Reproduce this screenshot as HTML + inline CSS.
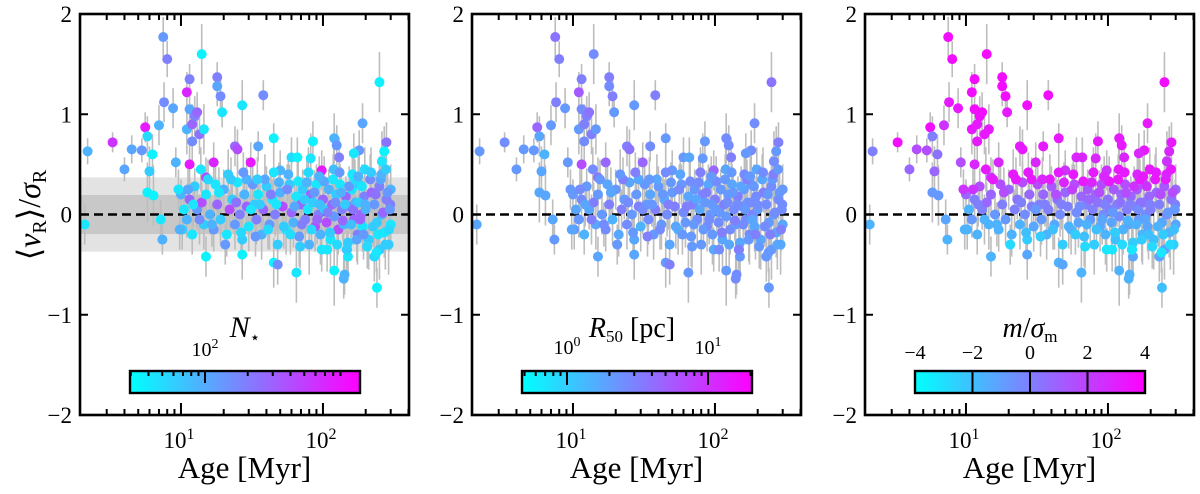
<!DOCTYPE html>
<html><head><meta charset="utf-8"><style>
html,body{margin:0;padding:0;background:#fff}
svg{display:block}
svg text{font-family:"Liberation Serif","DejaVu Serif",serif;fill:#000}
</style></head><body>
<svg id="fig" width="1200" height="494" viewBox="0 0 1200 494" font-family="Liberation Serif, DejaVu Serif, serif"></svg>
<script>
// ---- data: age Myr, <vR>/sigmaR, error, colour N*, colour R50, colour m/sigma (0..1 on cool map)
const ages = [2.2,3.3,4,4.5,5.3,5.6,5.8,6,6.3,5.8,6.4,7,7.5,8,7.6,8.8,9.2,7.2,7.4,2.1,11.5,11,11,11.5,12,12.5,13,14,13.5,14.5,18,18,19,19.5,27,38,11.5,15,12,17,24,25,31,35,45,50,60,66,85,82,98,120,125,130,190,180,165,250,280,270,260,15,27,45,48,65,120,140,142,150,240,230,250,
10,10.5,11,11.5,12,12.5,13,14,14.5,15,16,17,17.5,18,19,20,21,22,23,24,25,26,27,28,29,30,32,33,34,35,37,38,40,42,44,46,48,50,52,55,58,60,62,65,68,70,72,75,78,80,82,85,88,90,93,96,100,103,106,110,113,116,120,124,128,132,136,140,145,150,155,160,165,170,175,180,185,190,195,200,210,220,230,240,250,260,270,280,290,295,300,300,
10.2,11.2,12.2,13.5,15.5,16.5,18.5,20.5,22.5,24.5,26.5,29,31,33.5,36,39,41,43,47,49,53,56,59,63,67,71,74,77,83,87,91,95,98,102,108,112,118,122,126,134,138,143,148,153,158,163,168,173,178,183,188,193,198,205,215,225,235,245,255,265,275,285,292,298,
9.6,9.8,13.8,21.5,27.5,34.5,45,57,69,79,94,107,119,131,147,161,177,197,218,238,258,278,296];
const vals = [0.63,0.72,0.45,0.65,0.64,0.87,0.78,0.43,0.6,0.22,0.19,0.89,1.77,1.55,1.12,1.06,0.52,-0.05,-0.25,-0.1,1.35,1.22,0.85,1.05,0.9,0.98,1.02,1.6,0.8,0.85,1.37,1.28,1.18,1.02,1.09,1.19,0.5,0.37,0.73,0.52,0.68,0.65,0.52,0.68,0.76,0.44,0.57,0.57,0.73,0.56,0.44,0.76,0.69,0.57,0.91,0.64,0.61,1.32,0.72,0.63,0.53,-0.42,-0.4,-0.48,-0.5,-0.58,-0.56,-0.64,-0.6,-0.42,-0.73,-0.42,-0.35,
0.2,0.05,-0.05,0.15,-0.2,0.28,0.05,0.12,-0.1,0.2,0,-0.15,0.3,0.1,-0.05,0.25,-0.2,0.05,0.15,-0.1,0.32,0,-0.25,0.2,0.08,-0.12,0.3,0.1,-0.05,0.2,-0.2,0.05,0.28,-0.1,0.15,0,-0.3,0.22,0.08,-0.15,0.3,0.02,-0.08,0.18,-0.22,0.1,0.25,-0.05,0.05,-0.3,0.2,0.12,-0.12,0.3,0,-0.2,0.15,0.05,-0.08,0.25,-0.25,0.1,-0.02,0.2,-0.15,0.3,0.05,-0.1,0.18,-0.28,0.08,0.25,-0.05,0.12,-0.2,0.3,0,-0.12,0.18,0.05,-0.25,0.22,0.1,-0.08,0.28,0,-0.18,0.15,-0.3,0.05,0.25,-0.1,
-0.15,0.25,0.1,-0.05,0.35,-0.1,0.22,-0.3,0.35,0.12,-0.18,0.35,0.05,-0.22,0.1,0.35,-0.15,0.2,0.1,0.32,-0.12,0.25,-0.2,0.08,0.33,-0.1,0.15,0.32,-0.15,0.22,-0.05,0.1,-0.35,0.33,0.02,-0.18,0.35,0.12,-0.3,0.22,-0.06,0.1,-0.35,0.28,-0.1,0.05,0.35,-0.25,0.12,-0.05,0.28,-0.2,0.1,-0.32,0.35,-0.12,0.2,-0.2,0.35,0.02,-0.3,0.22,-0.15,0.1,
0.25,-0.15,0.45,0.4,0.42,0.35,0.42,0.4,-0.32,0.42,0.38,-0.35,0.45,0.42,-0.35,0.4,0.38,0.45,0.42,-0.38,0.4,0.45,0.05];
const errs = [0.13,0.1,0.12,0.14,0.12,0.15,0.2,0.25,0.2,0.3,0.3,0.2,0.2,0.18,0.2,0.2,0.15,0.2,0.15,0.2,0.15,0.2,0.25,0.2,0.2,0.2,0.2,0.3,0.2,0.25,0.15,0.2,0.2,0.15,0.25,0.15,0.2,0.2,0.2,0.2,0.2,0.2,0.2,0.15,0.15,0.2,0.2,0.2,0.2,0.25,0.2,0.25,0.2,0.2,0.2,0.2,0.2,0.3,0.2,0.25,0.3,0.2,0.25,0.25,0.2,0.3,0.35,0.2,0.2,0.2,0.2,0.25,0.3,
0.15,0.15,0.18,0.2,0.2,0.18,0.2,0.2,0.25,0.2,0.2,0.22,0.2,0.2,0.25,0.2,0.22,0.2,0.2,0.25,0.2,0.22,0.25,0.2,0.2,0.25,0.2,0.22,0.25,0.2,0.25,0.2,0.2,0.25,0.2,0.22,0.3,0.2,0.2,0.25,0.2,0.22,0.25,0.2,0.3,0.2,0.2,0.25,0.22,0.3,0.2,0.2,0.25,0.2,0.22,0.3,0.2,0.22,0.25,0.2,0.3,0.22,0.25,0.2,0.25,0.2,0.22,0.25,0.2,0.3,0.22,0.2,0.25,0.22,0.3,0.2,0.22,0.25,0.2,0.22,0.3,0.2,0.22,0.25,0.3,0.22,0.25,0.2,0.3,0.22,0.25,0.25,
0.2,0.2,0.22,0.25,0.2,0.22,0.25,0.2,0.22,0.25,0.2,0.22,0.25,0.2,0.22,0.25,0.2,0.22,0.25,0.2,0.22,0.25,0.2,0.22,0.25,0.2,0.22,0.25,0.2,0.22,0.25,0.2,0.22,0.25,0.2,0.22,0.25,0.2,0.22,0.25,0.2,0.22,0.25,0.2,0.22,0.25,0.2,0.22,0.25,0.2,0.22,0.25,0.2,0.22,0.25,0.2,0.22,0.25,0.2,0.22,0.25,0.2,0.22,0.25,
0.2,0.2,0.22,0.25,0.2,0.22,0.25,0.2,0.22,0.25,0.2,0.22,0.25,0.2,0.22,0.25,0.2,0.22,0.25,0.2,0.22,0.25,0.2];
const cN = [0.3,0.8,0.35,0.35,0.4,0.9,0.15,0.2,0.05,0.05,0.05,0.3,0.4,0.5,0.45,0.35,0.3,0.1,0.3,0.1,0.5,0.85,0.3,0.35,0.6,0.5,0.6,0.05,0.55,0.1,0.5,0.35,0.45,0.1,0.1,0.45,0.9,0.7,0.45,0.85,0.6,0.7,0.9,0.35,0.05,0.3,0.15,0.05,0.05,0.1,0.9,0.3,0.4,0.5,0.35,0.4,0.1,0.05,0.55,0.05,0.1,0.05,0.05,0.05,0.45,0.1,0.05,0.3,0.3,0.1,0.05,0.15,0.2,
0.3,0.1,0.3,0.6,0.1,0.2,0.4,0.7,0.2,0.1,0.3,0.4,0.1,0.6,0.2,0.3,0.1,0.7,0.2,0.4,0.1,0.5,0.2,0.3,0.6,0.1,0.4,0.2,0.5,0.1,0.3,0.6,0.2,0.4,0.1,0.5,0.2,0.3,0.7,0.1,0.2,0.6,0.3,0.1,0.4,0.6,0.2,0.5,0.1,0.3,0.6,0.2,0.7,0.1,0.5,0.3,0.6,0.2,0.7,0.3,0.1,0.6,0.4,0.2,0.7,0.1,0.5,0.3,0.6,0.2,0.5,0.1,0.6,0.3,0.5,0.2,0.6,0.1,0.5,0.3,0.2,0.6,0.4,0.2,0.5,0.3,0.1,0.5,0.2,0.6,0.3,0.1,
0.2,0.35,0.1,0.45,0.15,0.3,0.1,0.4,0.2,0.55,0.15,0.3,0.1,0.4,0.2,0.35,0.15,0.5,0.1,0.3,0.2,0.45,0.15,0.35,0.1,0.5,0.2,0.3,0.15,0.4,0.6,0.25,0.1,0.35,0.5,0.2,0.1,0.45,0.15,0.3,0.6,0.2,0.1,0.4,0.25,0.55,0.15,0.35,0.2,0.6,0.1,0.4,0.3,0.15,0.45,0.2,0.55,0.1,0.35,0.6,0.2,0.4,0.15,0.5,
0.1,0.3,0.1,0.2,0.4,0.2,0.1,0.3,0.2,0.15,0.3,0.1,0.25,0.4,0.2,0.1,0.3,0.15,0.2,0.1,0.3,0.2,0.4];
const cR = [0.4,0.45,0.4,0.4,0.4,0.6,0.35,0.35,0.3,0.35,0.35,0.4,0.55,0.5,0.5,0.4,0.4,0.35,0.4,0.35,0.5,0.65,0.4,0.45,0.5,0.5,0.55,0.45,0.5,0.4,0.5,0.45,0.5,0.4,0.4,0.5,0.7,0.55,0.45,0.6,0.5,0.55,0.6,0.45,0.4,0.4,0.4,0.35,0.4,0.4,0.6,0.45,0.45,0.5,0.45,0.45,0.4,0.55,0.5,0.4,0.45,0.35,0.35,0.4,0.5,0.4,0.4,0.45,0.45,0.4,0.4,0.4,0.4,
0.4,0.35,0.4,0.45,0.3,0.4,0.35,0.5,0.35,0.4,0.4,0.45,0.35,0.5,0.3,0.4,0.35,0.5,0.4,0.45,0.35,0.4,0.35,0.4,0.5,0.3,0.4,0.4,0.45,0.35,0.4,0.5,0.4,0.4,0.35,0.45,0.35,0.4,0.5,0.3,0.4,0.45,0.4,0.35,0.4,0.5,0.4,0.45,0.35,0.4,0.5,0.4,0.45,0.35,0.4,0.4,0.5,0.4,0.45,0.4,0.35,0.5,0.4,0.4,0.45,0.35,0.45,0.4,0.5,0.35,0.45,0.4,0.45,0.4,0.45,0.4,0.5,0.35,0.45,0.4,0.35,0.5,0.45,0.4,0.45,0.4,0.35,0.45,0.35,0.5,0.4,0.35,
0.4,0.45,0.35,0.5,0.4,0.45,0.35,0.4,0.5,0.45,0.4,0.35,0.45,0.5,0.4,0.35,0.45,0.4,0.5,0.4,0.35,0.45,0.4,0.5,0.45,0.4,0.35,0.45,0.4,0.5,0.45,0.4,0.35,0.45,0.4,0.5,0.4,0.45,0.35,0.4,0.5,0.45,0.4,0.35,0.45,0.4,0.5,0.4,0.45,0.35,0.4,0.5,0.45,0.4,0.35,0.45,0.4,0.5,0.4,0.45,0.35,0.4,0.5,0.45,
0.4,0.35,0.45,0.4,0.5,0.4,0.45,0.35,0.4,0.5,0.4,0.45,0.35,0.4,0.5,0.45,0.4,0.35,0.45,0.4,0.5,0.4,0.45];
const cM = [0.5,0.95,0.6,0.7,0.7,0.95,0.5,0.6,0.55,0.4,0.4,0.8,0.95,0.95,0.9,0.9,0.7,0.35,0.3,0.3,0.95,0.95,0.9,0.95,0.9,0.95,0.95,0.95,0.9,0.9,0.95,0.95,0.95,0.9,0.95,0.95,0.85,0.8,0.9,0.85,0.9,0.9,0.85,0.9,0.9,0.8,0.85,0.85,0.9,0.85,0.8,0.9,0.9,0.85,0.9,0.9,0.85,0.95,0.9,0.85,0.8,0.3,0.35,0.3,0.35,0.3,0.3,0.3,0.3,0.35,0.25,0.35,0.35,
0.6,0.3,0.4,0.5,0.3,0.7,0.5,0.6,0.3,0.6,0.4,0.3,0.7,0.5,0.4,0.6,0.3,0.5,0.55,0.3,0.7,0.45,0.2,0.6,0.5,0.35,0.7,0.5,0.4,0.6,0.3,0.5,0.65,0.35,0.55,0.45,0.2,0.6,0.5,0.3,0.7,0.45,0.35,0.6,0.25,0.5,0.65,0.4,0.5,0.2,0.6,0.55,0.35,0.7,0.45,0.3,0.55,0.5,0.35,0.65,0.25,0.5,0.45,0.6,0.3,0.7,0.5,0.35,0.6,0.2,0.5,0.65,0.4,0.55,0.3,0.7,0.45,0.35,0.6,0.5,0.25,0.6,0.5,0.35,0.65,0.45,0.3,0.55,0.2,0.5,0.6,0.35,
0.3,0.8,0.5,0.3,0.9,0.3,0.7,0.15,0.9,0.5,0.25,0.9,0.4,0.2,0.5,0.9,0.25,0.7,0.5,0.85,0.3,0.75,0.2,0.45,0.9,0.3,0.6,0.85,0.25,0.7,0.35,0.5,0.1,0.9,0.4,0.2,0.9,0.55,0.15,0.7,0.3,0.5,0.1,0.8,0.3,0.45,0.9,0.2,0.55,0.35,0.8,0.25,0.5,0.15,0.9,0.3,0.7,0.2,0.9,0.4,0.15,0.7,0.25,0.5,
0.8,0.3,0.9,0.9,0.9,0.85,0.9,0.9,0.15,0.9,0.85,0.1,0.9,0.9,0.1,0.85,0.9,0.9,0.9,0.1,0.85,0.9,0.4];
const yTicks = [-2,-1,0,1,2];
const xMajor = [10,100];
const xMinor = [3,4,5,6,7,8,9,20,30,40,50,60,70,80,90,200,300,400];

const NS="http://www.w3.org/2000/svg";
const svg=document.getElementById('fig');
function mk(tag,attrs,parent){const e=document.createElementNS(NS,tag);for(const k in attrs)e.setAttribute(k,attrs[k]);(parent||svg).appendChild(e);return e;}
const W=329, TOP=14, BOT=415;
const logMin=Math.log10(1.945), logMax=Math.log10(403.6);
function xs(a,x0){return x0+(Math.log10(a)-logMin)/(logMax-logMin)*W;}
function ys(v){return 214.5 - v*100.25;}
function cool(t){t=Math.max(0,Math.min(1,t));return `rgb(${Math.round(255*t)},${Math.round(255*(1-t))},255)`;}
const panels=[{x0:80,c:cN,name:'nstar'},{x0:472,c:cR,name:'r50'},{x0:865,c:cM,name:'msig'}];
const FF='Liberation Serif, DejaVu Serif, serif';

panels.forEach((p,pi)=>{
  const g=mk('g',{'font-family':FF});
  
  
  if(pi===0){
    const b1=mk('rect',{x:p.x0,y:ys(0.37),width:W,height:ys(-0.37)-ys(0.37),fill:'#e3e3e3'},g);
    
    const b2=mk('rect',{x:p.x0,y:ys(0.195),width:W,height:ys(-0.195)-ys(0.195),fill:'#c8c8c8'},g);
    
  }
  const eg=mk('g',{stroke:'#bdbdbd','stroke-width':1.6},g);
  
  ages.forEach((a,i)=>{const x=xs(a,p.x0);const l=mk('line',{x1:x,x2:x,y1:ys(vals[i]+errs[i]),y2:ys(vals[i]-errs[i])},eg);
    });
  const zl=mk('line',{x1:p.x0,x2:p.x0+W,y1:ys(0),y2:ys(0),stroke:'#000','stroke-width':2.6,'stroke-dasharray':'9,5'},g);
  
  const pg=mk('g',{},g);
  
  ages.forEach((a,i)=>{const c=mk('circle',{cx:xs(a,p.x0),cy:ys(vals[i]),r:5,fill:cool(p.c[i])},pg);
    });
  const tg=mk('g',{stroke:'#000','stroke-width':2},g);
  
  yTicks.forEach(v=>{const y=ys(v);
    mk('line',{x1:p.x0,x2:p.x0+8,y1:y,y2:y},tg);mk('line',{x1:p.x0+W,x2:p.x0+W-8,y1:y,y2:y},tg);
    const t=mk('text',{x:p.x0-8,y:y+8,'font-size':23,'text-anchor':'end'},g);t.textContent=(v<0?'\u2212':'')+Math.abs(v);
    });
  xMajor.forEach((a,k)=>{const x=xs(a,p.x0);
    mk('line',{x1:x,x2:x,y1:BOT,y2:BOT-12},tg);mk('line',{x1:x,x2:x,y1:TOP,y2:TOP+12},tg);
    const t=mk('text',{x:x-2,y:BOT+33,'font-size':23,'text-anchor':'middle'},g);
    t.innerHTML='10<tspan dy="-9" font-size="16">'+(k+1)+'</tspan>';
    });
  xMinor.forEach(a=>{const x=xs(a,p.x0);if(x>p.x0+W)return;
    mk('line',{x1:x,x2:x,y1:BOT,y2:BOT-6},tg);mk('line',{x1:x,x2:x,y1:TOP,y2:TOP+6},tg);});
  const fr=mk('rect',{x:p.x0,y:TOP,width:W,height:BOT-TOP,fill:'none',stroke:'#000','stroke-width':2.6},g);
  
  const xl=mk('text',{x:p.x0+W/2,y:478,'font-size':31,'text-anchor':'middle'},g);xl.textContent='Age [Myr]';
  
  const cx0=p.x0+50, cw=230, cy0=371, ch=22;
  const gid='grad'+pi;
  const defs=mk('defs',{},g);const lg=mk('linearGradient',{id:gid,x1:0,x2:1,y1:0,y2:0},defs);
  mk('stop',{offset:0,'stop-color':'#00ffff'},lg);mk('stop',{offset:1,'stop-color':'#ff00ff'},lg);
  const cb=mk('rect',{x:cx0,y:cy0,width:cw,height:ch,fill:`url(#${gid})`,stroke:'#000','stroke-width':2.4},g);
  
  const cg=mk('g',{stroke:'#000','stroke-width':2},g);
  let title;
  if(pi===0){
    const dec=142, x100=cx0+75;
    [20,30,40,50,60,70,80,90,200,300,400,500,600,700,800,900].forEach(n=>{const x=x100+Math.log10(n/100)*dec;if(x>cx0&&x<cx0+cw)mk('line',{x1:x,x2:x,y1:cy0,y2:cy0+5},cg);});
    mk('line',{x1:x100,x2:x100,y1:cy0,y2:cy0+12},cg);
    const t=mk('text',{x:x100,y:cy0-15,'font-size':20,'text-anchor':'middle'},g);t.innerHTML='10<tspan dy="-8" font-size="14">2</tspan>';
    
    title=mk('text',{x:p.x0+165,y:337,'font-size':30,'font-style':'italic','text-anchor':'middle'},g);title.innerHTML='N<tspan dy="6" font-size="17" font-style="normal">\u22C6</tspan>';
  } else if(pi===1){
    const dec=141, x1=cx0+45;
    [0.4,0.5,0.6,0.7,0.8,0.9,2,3,4,5,6,7,8,9,20].forEach(n=>{const x=x1+Math.log10(n)*dec;if(x>cx0&&x<cx0+cw)mk('line',{x1:x,x2:x,y1:cy0,y2:cy0+5},cg);});
    [1,10].forEach((n,k)=>{const x=x1+Math.log10(n)*dec;mk('line',{x1:x,x2:x,y1:cy0,y2:cy0+14},cg);
      const t=mk('text',{x:x,y:cy0-17,'font-size':20,'text-anchor':'middle'},g);t.innerHTML='10<tspan dy="-8" font-size="14">'+k+'</tspan>';
      });
    title=mk('text',{x:p.x0+160,y:337,'font-size':28,'text-anchor':'middle'},g);title.innerHTML='<tspan font-style="italic">R</tspan><tspan dy="5" font-size="17">50</tspan><tspan dy="-5"> [pc]</tspan>';
  } else {
    [-4,-2,0,2,4].forEach((v,k)=>{const x=cx0+cw*(v+4)/8;
      if(k>0&&k<4)mk('line',{x1:x,x2:x,y1:cy0,y2:cy0+ch},cg);
      const t=mk('text',{x:x,y:cy0-12,'font-size':20,'text-anchor':'middle'},g);t.textContent=(v<0?'\u2212':'')+Math.abs(v);
      });
    title=mk('text',{x:p.x0+165,y:337,'font-size':28,'text-anchor':'middle'},g);title.innerHTML='<tspan font-style="italic">m</tspan>/<tspan font-style="italic">\u03C3</tspan><tspan dy="5" font-size="17">m</tspan>';
  }
  
});
const yl=mk('text',{x:0,y:0,'font-size':32,'font-family':FF,'text-anchor':'middle',transform:'translate(40,215) rotate(-90)'});
yl.innerHTML='\u27E8<tspan font-style="italic">v</tspan><tspan dy="6" font-size="20">R</tspan><tspan dy="-6">\u27E9/</tspan><tspan font-style="italic">\u03C3</tspan><tspan dy="6" font-size="20">R</tspan>';


</script>
</body></html>
